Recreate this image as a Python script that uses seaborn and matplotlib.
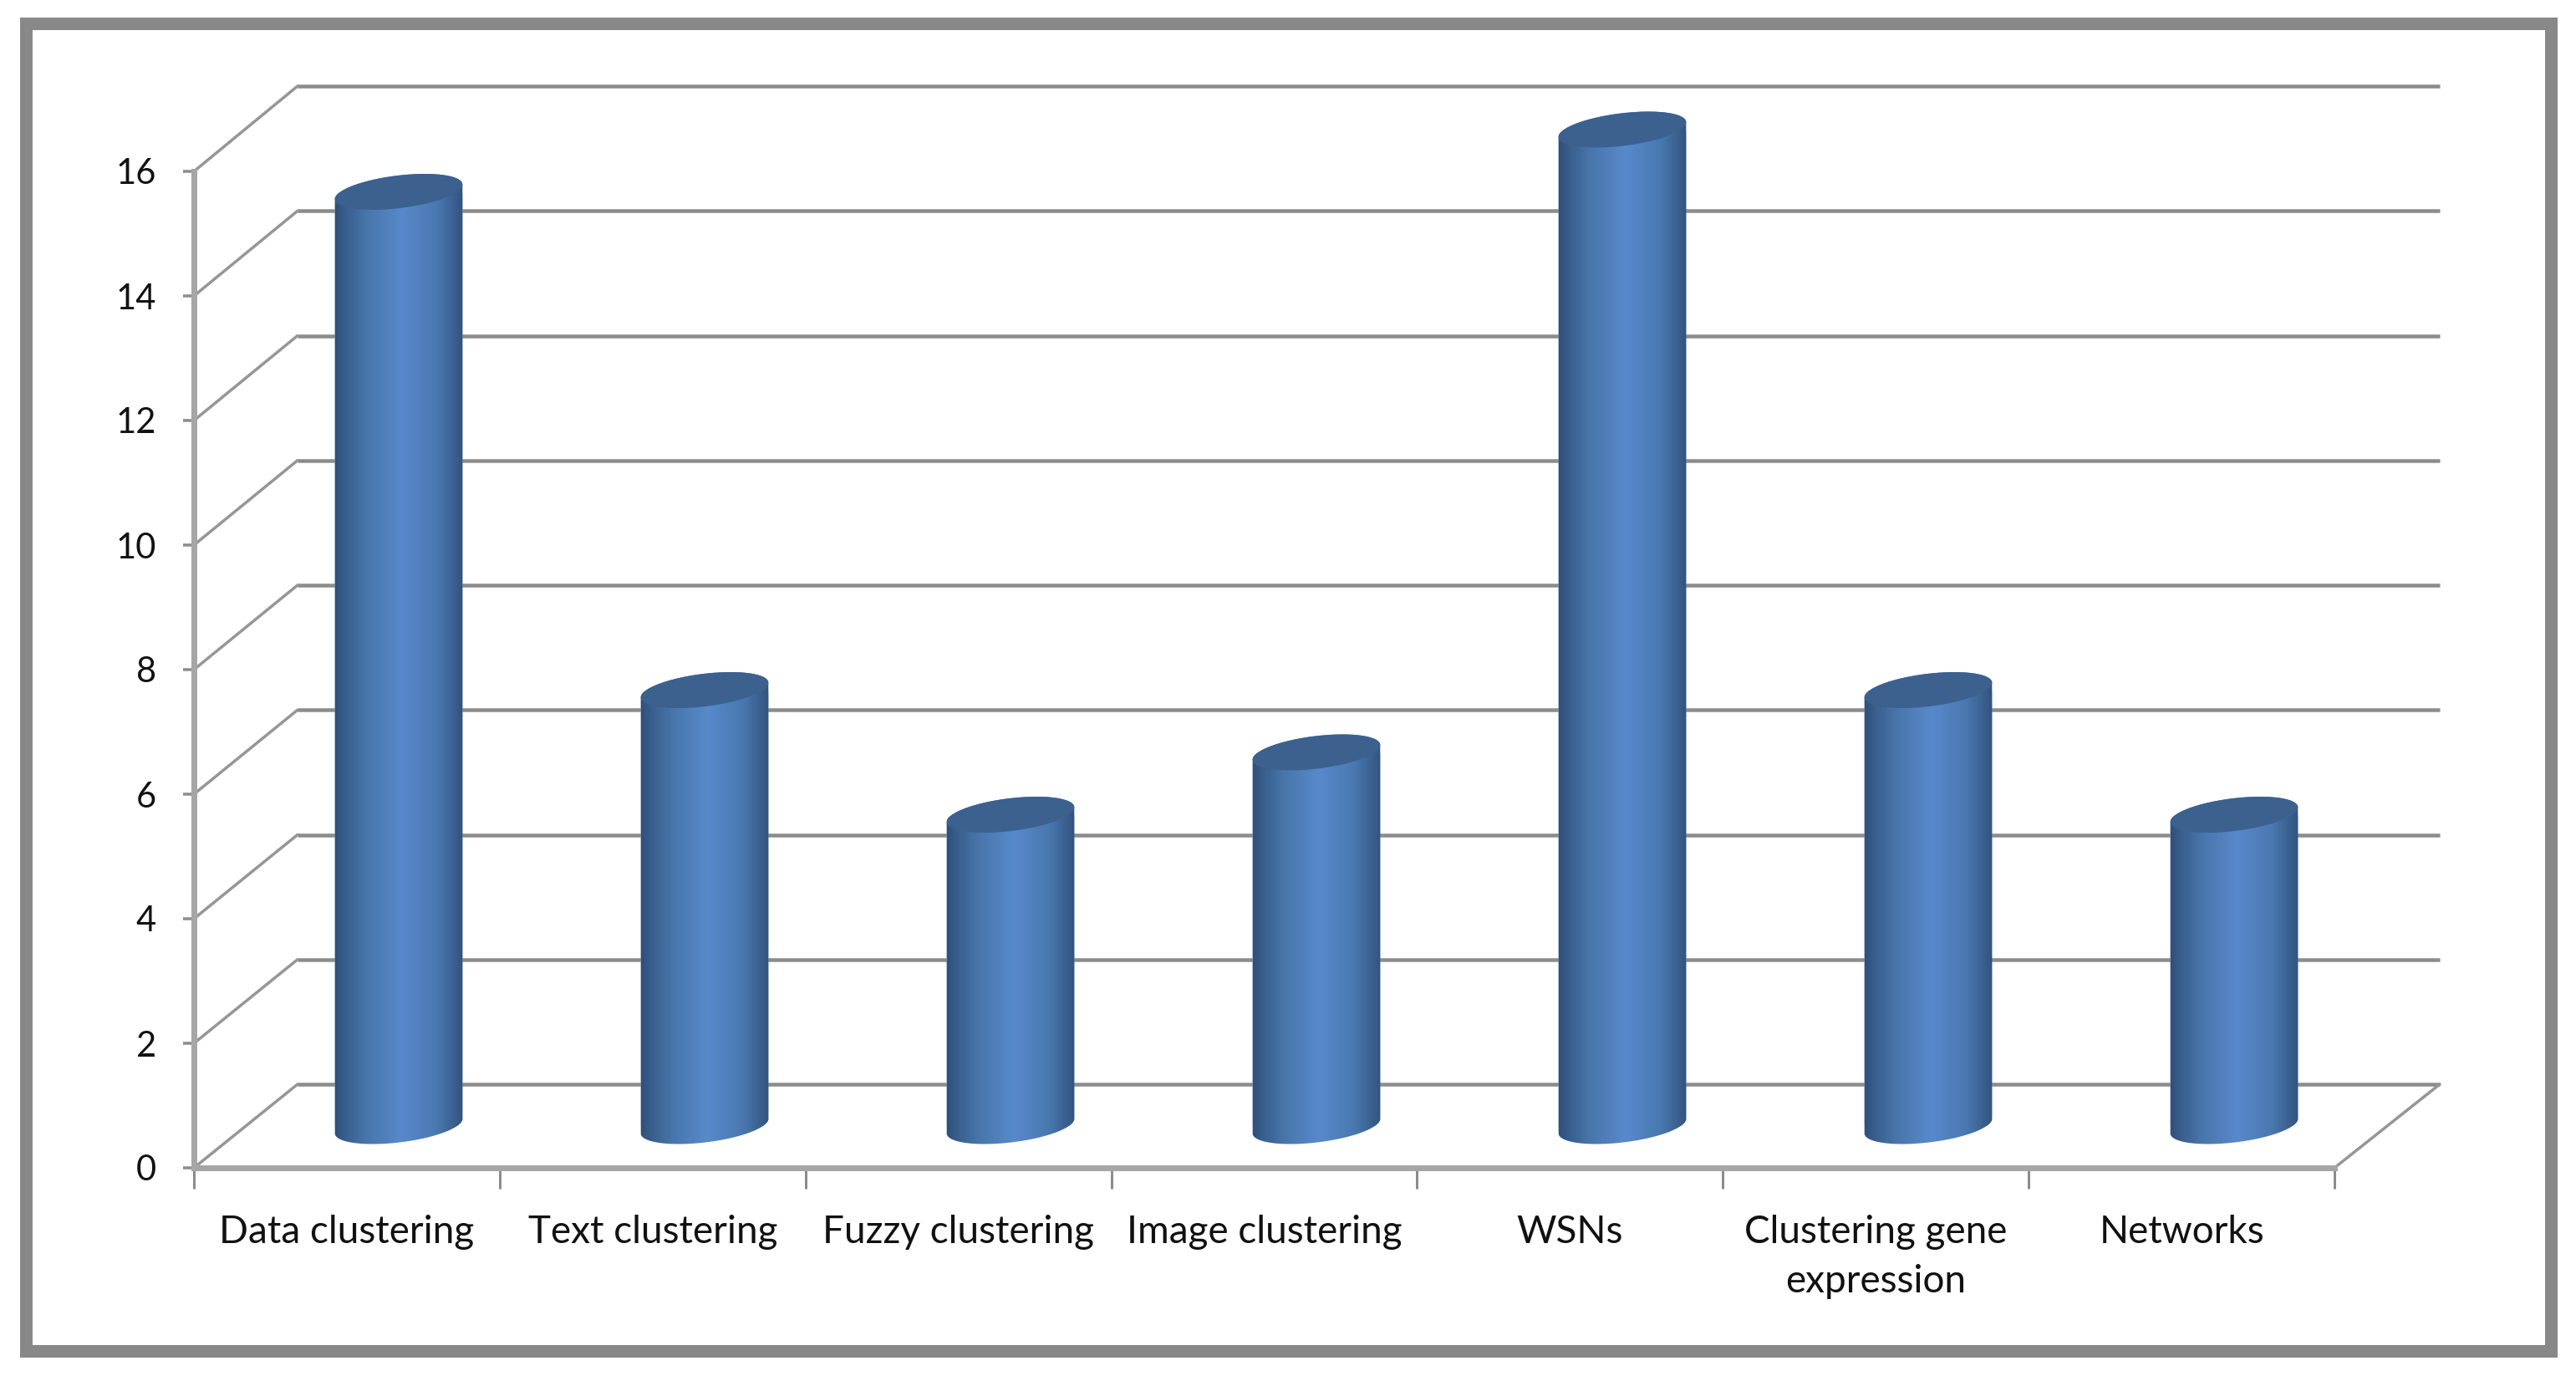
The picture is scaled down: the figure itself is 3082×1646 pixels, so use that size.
import numpy as np
import matplotlib
matplotlib.use("Agg")
import matplotlib.pyplot as plt
import seaborn as sns
from matplotlib.colors import LinearSegmentedColormap
from matplotlib.patches import ConnectionPatch, PathPatch, Polygon, Rectangle
from matplotlib.path import Path

categories = ["Data clustering", "Text clustering", "Fuzzy clustering", "Image clustering",
              "WSNs", "Clustering gene\nexpression", "Networks"]
values = [15, 7, 5, 6, 16, 7, 5]
y_ticks = [0, 2, 4, 6, 8, 10, 12, 14, 16]

W, H = 3082, 1646
GREY = "#8c8c8c"
AXIS_GREY = "#a6a6a6"
px = 72 / 100  # line widths are worked out in pixels

sns.set_style("white")
plt.rcParams["font.family"] = ["Lato", "DejaVu Sans"]
fig = plt.figure(figsize=(W / 100, H / 100), dpi=100, facecolor="white")


def add_plane(left, right, y0, y16, zorder):
    a = fig.add_axes([left / W, 1 - y0 / H, (right - left) / W, (y0 - y16) / H], zorder=zorder)
    a.patch.set_visible(False)
    a.set_xlim(-0.5, 6.5)
    a.set_ylim(0, 16)
    sns.despine(ax=a, left=True, bottom=True)
    a.set_xticks([])
    a.set_yticks([])
    return a


# three planes of the fake 3d box: back wall, bars, front axes
back = add_plane(356, 2919, 1297, 103, 0)
ax = add_plane(294, 2856, 1347, 155, 1)
front = add_plane(232, 2793, 1397, 205, 2)

# back wall
for v in y_ticks:
    back.plot([-0.5, 6.5], [v, v], color=GREY, lw=4.5 * px, solid_capstyle="butt", clip_on=False)
    con = ConnectionPatch((-0.5, v), (-0.5, v), coordsA=front.transData, coordsB=back.transData,
                          color="#969696", lw=3.5 * px, zorder=1)
    fig.add_artist(con)
fig.add_artist(ConnectionPatch((6.5, 0), (6.5, 0), coordsA=front.transData, coordsB=back.transData,
                               color="#969696", lw=3.5 * px, zorder=1))

# bars
sns.barplot(x=categories, y=values, color="#4f81bd", width=0.42, ax=ax)
ax.set_xticks([])
ax.set_yticks([])
ax.set_xlabel("")
ax.set_ylabel("")

cat_px = (2856 - 294) / 7
unit_px = (1347 - 155) / 16
shade = LinearSegmentedColormap.from_list(
    "cyl", [(0, "#2d4c75"), (0.08, "#375c8a"), (0.25, "#4875aa"), (0.52, "#5889cb"),
            (0.78, "#4a79b1"), (0.92, "#3a5f8e"), (1, "#2f4f79")])
t = np.linspace(0, 2 * np.pi, 121)
tilt = np.radians(7)


def ellipse(cx, cy, half_w):
    # tilted ellipse in pixels, turned back into data coordinates
    a, b = half_w * cat_px, 19.5
    ex = a * np.cos(t) * np.cos(tilt) - b * np.sin(t) * np.sin(tilt)
    ey = a * np.cos(t) * np.sin(tilt) + b * np.sin(t) * np.cos(tilt)
    return np.column_stack([cx + ex / cat_px, cy + ey / unit_px])


gradient = np.linspace(0, 1, 256).reshape(1, -1)
for bar in list(ax.patches):
    cx = bar.get_x() + bar.get_width() / 2
    half_w = bar.get_width() / 2
    top = ellipse(cx, bar.get_height(), half_w)
    base = ellipse(cx, 0, half_w)
    # outline of the cylinder: over the top cap, down one side, round the base
    outline = np.vstack([top[:61], base[60:121], top[:1]])
    clip = PathPatch(Path(outline), transform=ax.transData, facecolor="none", edgecolor="none",
                     clip_on=False)
    ax.add_patch(clip)
    bar.set_clip_path(clip)
    img = ax.imshow(gradient, cmap=shade, aspect="auto", interpolation="bilinear", zorder=3,
                    extent=[cx - half_w * 1.03, cx + half_w * 1.03, -0.4, bar.get_height() + 0.4])
    img.set_clip_box(fig.bbox)
    img.set_clip_path(clip)
    ax.add_patch(Polygon(top, closed=True, facecolor="#3c618f", edgecolor="none", zorder=4,
                         clip_on=False))
ax.set_xlim(-0.5, 6.5)
ax.set_ylim(0, 16)

# front axes carry the ticks and labels
front.spines["left"].set_visible(True)
front.spines["bottom"].set_visible(True)
for side in ["left", "bottom"]:
    front.spines[side].set_color(AXIS_GREY)
    front.spines[side].set_linewidth(7 * px)
front.set_yticks(y_ticks)
front.set_yticklabels([str(v) for v in y_ticks])
front.tick_params(axis="y", left=True, length=13 * px, width=3.5 * px, color=GREY,
                  labelsize=30, pad=23, labelcolor="#111111")
front.set_xticks(np.arange(-0.5, 7, 1))
front.set_xticklabels([])
front.tick_params(axis="x", which="major", bottom=True, length=25 * px, width=3 * px, color=GREY)
front.set_xticks(range(len(categories)), minor=True)
front.set_xticklabels(categories, minor=True, linespacing=1.5)
front.tick_params(axis="x", which="minor", bottom=False, length=0, labelsize=33, pad=40,
                  labelcolor="#111111")

# picture frame
fig.add_artist(Rectangle((31 / W, 1 - 1616 / H), (3052 - 31) / W, (1616 - 28) / H,
                         transform=fig.transFigure, facecolor="none", edgecolor="#888888",
                         lw=15 * px))

fig.savefig("out.png", dpi=100)
